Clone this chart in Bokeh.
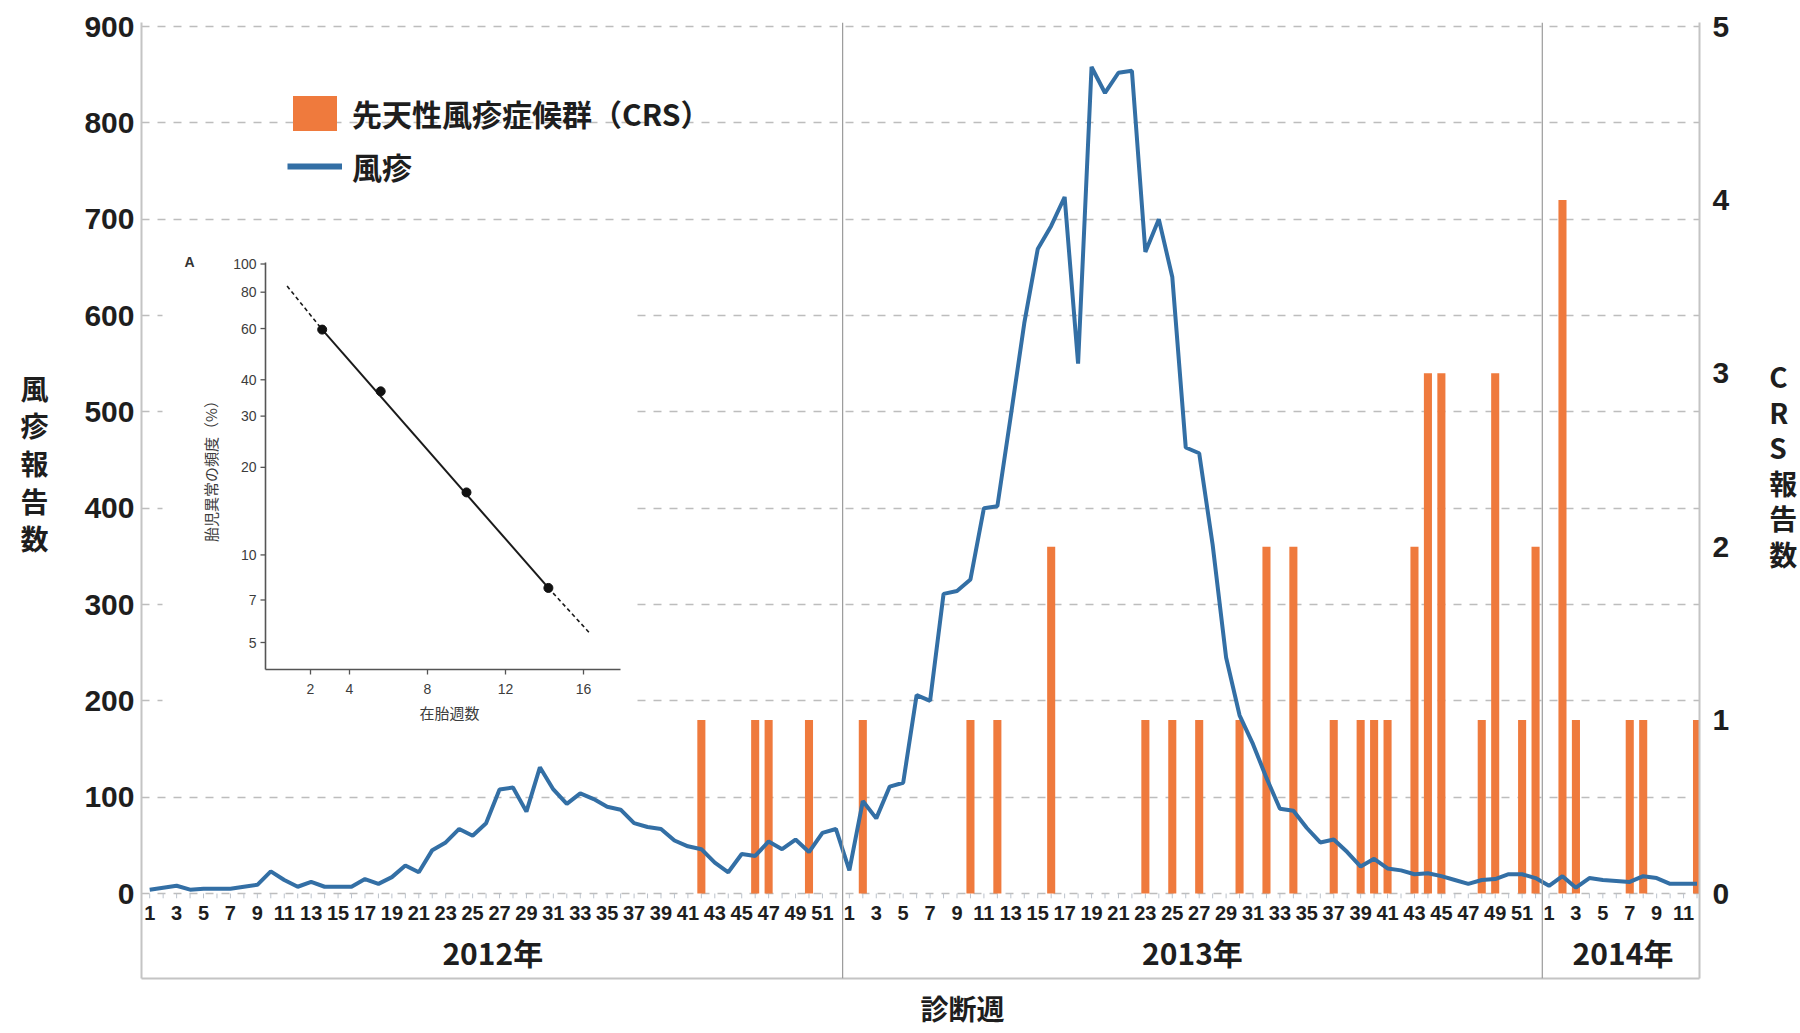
import math
from bokeh.plotting import figure
from bokeh.models import (Range1d, LinearAxis, LogScale, FixedTicker, Span, Title,
                          Legend, LegendItem)
from bokeh.core.properties import value
from bokeh.embed import file_html
from bokeh.resources import INLINE

# ---------------- data ----------------
years = ["2012年", "2013年", "2014年"]
weeks_per_year = [52, 52, 12]

rubella_2012 = [4, 6, 8, 4, 5, 5, 5, 7, 9, 23, 14, 7, 12, 7, 7, 7, 15, 10, 17, 29,
                22, 45, 53, 67, 60, 73, 108, 110, 85, 131, 108, 93, 104, 98, 90, 87,
                73, 69, 67, 55, 49, 46, 32, 22, 41, 39, 54, 46, 56, 43, 63, 67]
rubella_2013 = [24, 96, 78, 111, 115, 206, 200, 311, 314, 326, 400, 402, 496, 592,
                669, 693, 723, 550, 858, 831, 852, 854, 666, 700, 640, 463, 457, 362,
                245, 185, 155, 120, 88, 86, 68, 53, 56, 43, 28, 36, 26, 24, 20, 21,
                18, 14, 10, 14, 15, 20, 20, 16]
rubella_2014 = [8, 18, 6, 16, 14, 13, 12, 18, 16, 10, 10, 10]

crs_weeks_2012 = [42, 46, 47, 50]
crs_counts_2012 = [1, 1, 1, 1]
crs_weeks_2013 = [2, 10, 12, 16, 23, 25, 27, 30, 32, 34, 37, 39, 40, 41, 43, 44, 45,
                  48, 49, 51, 52]
crs_counts_2013 = [1, 1, 1, 2, 1, 1, 1, 1, 2, 2, 1, 1, 1, 1, 2, 3, 3, 1, 3, 1, 2]
crs_weeks_2014 = [2, 3, 7, 8, 12]
crs_counts_2014 = [4, 1, 1, 1, 1]

left_ticks = [0, 100, 200, 300, 400, 500, 600, 700, 800, 900]
right_ticks = [0, 1, 2, 3, 4, 5]

# inset (A)
inset_weeks = [2.6, 5.6, 10.0, 14.2]
inset_freq = [59.5, 36.5, 16.4, 7.7]
fit_solid_x = [2.6, 14.2]
fit_solid_y = [59.5, 7.7]
fit_dash_lo_x = [0.8, 2.6]
fit_dash_lo_y = [84.0, 59.5]
fit_dash_hi_x = [14.2, 16.3]
fit_dash_hi_y = [7.7, 5.4]
inset_y_ticks = [5, 7, 10, 20, 30, 40, 60, 80, 100]
inset_x_ticks = [2, 4, 8, 12, 16]

# ---------------- derived arrays ----------------
offsets = [0, weeks_per_year[0], weeks_per_year[0] + weeks_per_year[1]]
rubella = rubella_2012 + rubella_2013 + rubella_2014
week_idx = list(range(len(rubella)))
crs_x, crs_y = [], []
for off, wks, cnt in zip(offsets, [crs_weeks_2012, crs_weeks_2013, crs_weeks_2014],
                         [crs_counts_2012, crs_counts_2013, crs_counts_2014]):
    crs_x += [off + w - 1 for w in wks]
    crs_y += cnt
tick_x, tick_text = [], []
for off, n in zip(offsets, weeks_per_year):
    for w in range(1, n + 1, 2):
        tick_x.append(off + w - 1)
        tick_text.append(str(w))
year_x = [off + (n - 1) / 2 for off, n in zip(offsets, weeks_per_year)]
year_bounds = [offsets[1] - 0.5, offsets[2] - 0.5]

# ---------------- layout (page pixels; canvas starts at page 0) ----------------
FL, FR, FT, FB = 141, 1699, 22, 978
X0_PAGE, WEEK_PX = 149.2, 13.455
Y0_PAGE, UNIT_PX = 893.0, (893.0 - 26.0) / 900.0
CRS_SCALE = 180.0

def wx(px):
    return (px - X0_PAGE) / WEEK_PX

def vy(py):
    return (Y0_PAGE - py) / UNIT_PX

x_start, x_end = wx(FL), wx(FR)
y_start, y_end = vy(FB), vy(FT)

ORANGE = "#EF7A3D"
BLUE = "#336FA5"
TXT = "#1e1e1e"
AXC = "#c4c4c4"
JP = "Noto Sans CJK JP"
LAT = "Liberation Sans"

p = figure(frame_width=FR - FL, frame_height=FB - FT,
           min_border_left=FL, min_border_top=FT,
           min_border_right=93, min_border_bottom=47,
           x_range=Range1d(x_start, x_end), y_range=Range1d(y_start, y_end),
           output_backend="svg", toolbar_location=None)
p.outline_line_color = None
p.background_fill_color = "white"
p.border_fill_color = "white"

# x axis: just the bottom line of the box
p.xaxis.ticker = FixedTicker(ticks=[])
p.xaxis.major_label_text_font_size = "0px"
p.xaxis.major_tick_line_color = None
p.xaxis.minor_tick_line_color = None
p.xaxis.major_tick_out = 0
p.xaxis.axis_line_color = AXC
p.xaxis.axis_line_width = 2
p.xgrid.visible = False

# left axis
ly = p.yaxis[0]
ly.ticker = FixedTicker(ticks=left_ticks)
ly.major_label_text_font = LAT
ly.major_label_text_font_style = "bold"
ly.major_label_text_font_size = "30px"
ly.major_label_text_color = TXT
ly.major_label_standoff = 7
ly.major_tick_out = 0
ly.major_tick_line_color = None
ly.minor_tick_line_color = None
ly.axis_line_color = AXC
ly.axis_line_width = 2
ly.axis_label = "風\n疹\n報\n告\n数\n \n "
ly.axis_label_orientation = "horizontal"
ly.axis_label_standoff = 33
ly.axis_label_text_font = JP
ly.axis_label_text_font_style = "bold"
ly.axis_label_text_font_size = "28px"
ly.axis_label_text_color = TXT
ly.axis_label_text_line_height = 0.94
p.ygrid.ticker = FixedTicker(ticks=left_ticks)
p.ygrid.grid_line_color = "#bdbdbd"
p.ygrid.grid_line_width = 1.5
p.ygrid.grid_line_dash = "8 8"

# ranges
p.extra_y_ranges = {"crs": Range1d(y_start / CRS_SCALE, y_end / CRS_SCALE),
                    "iy": Range1d(1, 2), "py": Range1d(FB, FT)}
p.extra_x_ranges = {"ix": Range1d(0, 1), "px": Range1d(FL, FR)}

# right axis (CRS)
ra = LinearAxis(y_range_name="crs", ticker=FixedTicker(ticks=right_ticks))
ra.major_label_text_font = LAT
ra.major_label_text_font_style = "bold"
ra.major_label_text_font_size = "30px"
ra.major_label_text_color = TXT
ra.major_label_standoff = 13
ra.major_tick_out = 0
ra.major_tick_line_color = None
ra.minor_tick_line_color = None
ra.axis_line_color = AXC
ra.axis_line_width = 2
ra.axis_label = "C\nR\nS\n報\n告\n数\n \n "
ra.axis_label_orientation = "horizontal"
ra.axis_label_standoff = 37
ra.axis_label_text_font = JP
ra.axis_label_text_font_style = "bold"
ra.axis_label_text_font_size = "28px"
ra.axis_label_text_color = TXT
ra.axis_label_text_line_height = 0.89
p.add_layout(ra, "right")

# bottom title
p.add_layout(Title(text="診断週", align="left", offset=962 - FL - 42, text_font=JP,
                   text_font_style="bold", text_font_size="28px", text_color=TXT,
                   standoff=14), "below")

# year separators
for b in year_bounds:
    p.add_layout(Span(location=b, dimension="height", line_color="#9a9a9a", line_width=1.2))

# week tick marks
p.segment(x0=week_idx, y0=[0] * len(week_idx), x1=week_idx, y1=[-5] * len(week_idx),
          line_color="#bcc3cc", line_width=1)

# bars and line
bars = p.vbar(x=crs_x, top=crs_y, bottom=0, width=0.6, y_range_name="crs",
              fill_color=ORANGE, line_color=None)
p.line(x=week_idx, y=rubella, line_color=BLUE, line_width=4)
legend_line = p.line(x=[float("nan")], y=[float("nan")], line_color=BLUE, line_width=6)

# x tick labels and year labels (inside the box)
p.text(x=tick_x, y=[vy(912)] * len(tick_x), text=tick_text, text_align="center",
       text_baseline="middle", text_font=value(LAT), text_font_style="bold",
       text_font_size="20px", text_color=TXT)
p.text(x=year_x, y=[vy(951)] * len(year_x), text=years, text_align="center",
       text_baseline="middle", text_font=value(JP), text_font_style="bold",
       text_font_size="30px", text_color=TXT)

# legend
LEG_H = 44 + 9 + 44
legend = Legend(items=[LegendItem(label="先天性風疹症候群（CRS）", renderers=[bars]),
                       LegendItem(label="風疹", renderers=[legend_line])],
                location=(287 - FL, (FB - FT) - (91 - FT) - LEG_H),
                glyph_width=55, glyph_height=44, spacing=9, padding=0, margin=0,
                label_standoff=10, border_line_color=None, background_fill_alpha=0,
                label_text_font=JP, label_text_font_style="bold",
                label_text_font_size="30px", label_text_color=TXT)
p.add_layout(legend)

# ---------------- inset A ----------------
IX2, IXPX = 310.0, 19.5
IY100, IY5 = 263.5, 642.0
DEC = (IY5 - IY100) / math.log10(20)
p.extra_x_ranges["ix"].start = 2 + (FL - IX2) / IXPX
p.extra_x_ranges["ix"].end = 2 + (FR - IX2) / IXPX
p.extra_y_ranges["iy"].start = 10 ** (2 - (FB - IY100) / DEC)
p.extra_y_ranges["iy"].end = 10 ** (2 + (IY100 - FT) / DEC)
p.extra_y_scales = {"iy": LogScale()}

IAX_X, IAX_Y, IAX_TOP, IAX_RIGHT = 265, 669, 262, 620
ICOL = "#3c3c3c"
p.quad(left=162, right=636, top=238, bottom=735, x_range_name="px", y_range_name="py",
       fill_color="white", line_color=None)
p.segment(x0=[IAX_X, IAX_X], y0=[IAX_TOP, IAX_Y], x1=[IAX_X, IAX_RIGHT], y1=[IAX_Y, IAX_Y],
          x_range_name="px", y_range_name="py", line_color="#555555", line_width=1.6)
p.segment(x0=[IAX_X - 5] * len(inset_y_ticks), x1=[IAX_X] * len(inset_y_ticks),
          y0=inset_y_ticks, y1=inset_y_ticks, x_range_name="px", y_range_name="iy",
          line_color="#555555", line_width=1.3)
p.text(x=[IAX_X - 9] * len(inset_y_ticks), y=inset_y_ticks,
       text=[str(t) for t in inset_y_ticks], x_range_name="px", y_range_name="iy",
       text_align="right", text_baseline="middle", text_font=value(LAT),
       text_font_size="14px", text_color=ICOL)
p.segment(x0=inset_x_ticks, x1=inset_x_ticks, y0=[IAX_Y] * len(inset_x_ticks),
          y1=[IAX_Y + 5] * len(inset_x_ticks), x_range_name="ix", y_range_name="py",
          line_color="#555555", line_width=1.3)
p.text(x=inset_x_ticks, y=[688] * len(inset_x_ticks), text=[str(t) for t in inset_x_ticks],
       x_range_name="ix", y_range_name="py", text_align="center", text_baseline="middle",
       text_font=value(LAT), text_font_size="14px", text_color=ICOL)
p.text(x=[189], y=[261], text=["A"], x_range_name="px", y_range_name="py",
       text_align="center", text_baseline="middle", text_font=value(LAT),
       text_font_style="bold", text_font_size="14px", text_color="#333333")
p.text(x=[449], y=[712], text=["在胎週数"], x_range_name="px", y_range_name="py",
       text_align="center", text_baseline="middle", text_font=value(JP),
       text_font_size="15px", text_color=ICOL)
p.text(x=[210], y=[467], text=["胎児異常の頻度（%）"], x_range_name="px", y_range_name="py",
       angle=math.pi / 2, text_align="center", text_baseline="middle",
       text_font=value(JP), text_font_size="15px", text_color=ICOL)
p.line(x=fit_solid_x, y=fit_solid_y, x_range_name="ix", y_range_name="iy",
       line_color="#1a1a1a", line_width=2)
p.line(x=fit_dash_lo_x, y=fit_dash_lo_y, x_range_name="ix", y_range_name="iy",
       line_color="#1a1a1a", line_width=1.6, line_dash="4 3")
p.line(x=fit_dash_hi_x, y=fit_dash_hi_y, x_range_name="ix", y_range_name="iy",
       line_color="#1a1a1a", line_width=1.6, line_dash="4 3")
p.scatter(x=inset_weeks, y=inset_freq, x_range_name="ix", y_range_name="iy",
          size=9, fill_color="#111111", line_color="#111111")

open("out.html", "w").write(file_html(p, INLINE))
